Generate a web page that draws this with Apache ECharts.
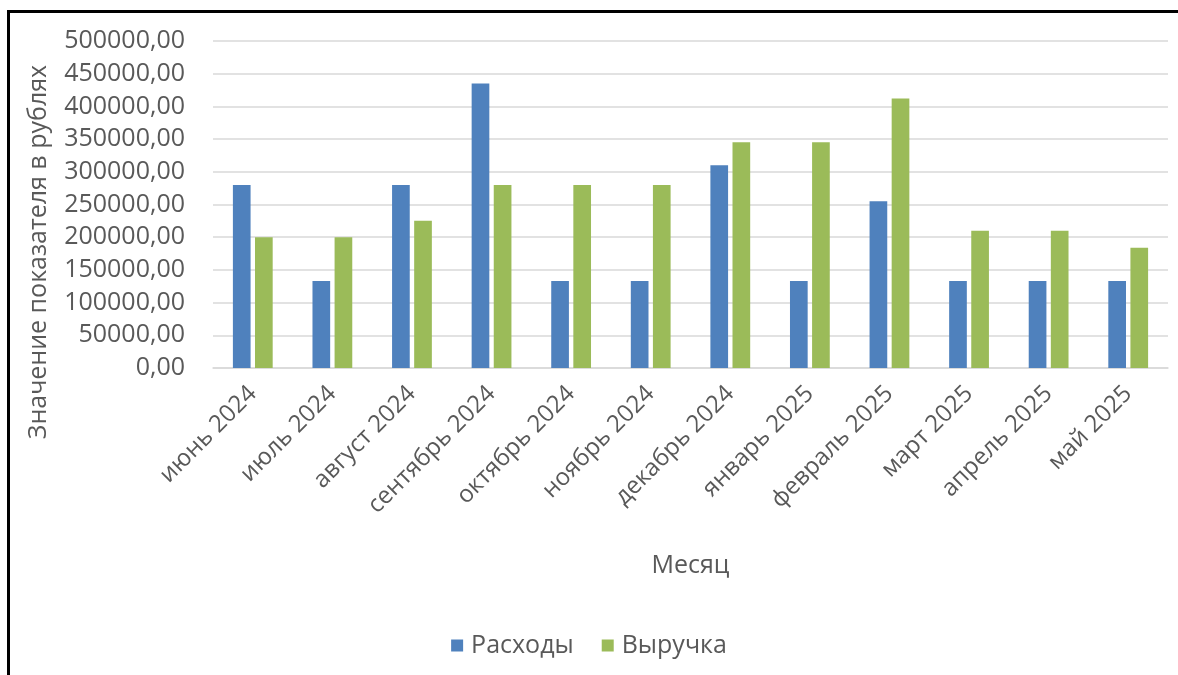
<!DOCTYPE html>
<html>
<head>
<meta charset="utf-8">
<script src="https://cdn.jsdelivr.net/npm/echarts@6/dist/echarts.min.js"></script>
<style>
  html, body { margin: 0; padding: 0; background: #fff; }
  #chart { position: absolute; left: 0; top: 0; width: 1178px; height: 675px; }
  .frame {
    position: absolute; left: 7px; top: 10px; width: 1200px; height: 700px;
    border-left: 3px solid #000; border-top: 3px solid #000;
    pointer-events: none;
  }
</style>
</head>
<body>
<div id="chart"></div>
<div class="frame"></div>
<script>
const months = ['июнь 2024', 'июль 2024', 'август 2024', 'сентябрь 2024', 'октябрь 2024', 'ноябрь 2024',
  'декабрь 2024', 'январь 2025', 'февраль 2025', 'март 2025', 'апрель 2025', 'май 2025']
const expenses = [280000, 133000, 280000, 435000, 133000, 133000, 310000, 133000, 255000, 133000, 133000, 133000]
const revenue = [200000, 200000, 225000, 280000, 280000, 280000, 345000, 345000, 412000, 210000, 210000, 184000]
const yMin = 0
const yMax = 500000
const yStep = 50000

const textColor = '#595959'
const font = 'Open Sans'

const chart = echarts.init(document.getElementById('chart'))

const option = {
  animation: false,
  textStyle: { fontFamily: font },
  grid: { left: 213, right: 10, top: 41, bottom: 307 },
  legend: {
    bottom: 12,
    left: 'center',
    itemWidth: 12,
    itemHeight: 12,
    itemGap: 28,
    icon: 'rect',
    textStyle: { color: textColor, fontSize: 25, fontFamily: font, padding: [0, 0, 0, 3] },
    data: ['Расходы', 'Выручка']
  },
  graphic: [
    {
      type: 'text',
      x: 39,
      y: 252,
      rotation: Math.PI / 2,
      style: {
        text: 'Значение показателя в рублях',
        fill: textColor,
        font: '25px "Open Sans"',
        textAlign: 'center',
        textVerticalAlign: 'middle'
      }
    }
  ],
  xAxis: {
    type: 'category',
    data: months,
    name: 'Месяц',
    nameLocation: 'middle',
    nameGap: 185,
    nameTextStyle: { color: textColor, fontSize: 25, fontFamily: font },
    axisTick: { show: false },
    axisLine: { lineStyle: { color: '#d9d9d9', width: 1.5 } },
    axisLabel: {
      color: textColor,
      fontSize: 24,
      fontFamily: font,
      rotate: 45,
      margin: 22,
      interval: 0
    }
  },
  yAxis: {
    type: 'value',
    min: yMin,
    max: yMax,
    interval: yStep,
    axisLine: { show: false },
    axisTick: { show: false },
    splitLine: { lineStyle: { color: '#d9d9d9', width: 1.5 } },
    axisLabel: {
      color: textColor,
      fontSize: 25,
      fontFamily: font,
      margin: 28,
      formatter: v => v.toFixed(2).replace('.', ',')
    }
  },
  series: [
    {
      name: 'Расходы',
      type: 'bar',
      data: expenses,
      barGap: '25%',
      barCategoryGap: '50%',
      itemStyle: { color: '#4F81BD' }
    },
    {
      name: 'Выручка',
      type: 'bar',
      data: revenue,
      barGap: '25%',
      barCategoryGap: '50%',
      itemStyle: { color: '#9BBB59' }
    }
  ]
}

chart.setOption(option)
</script>
</body>
</html>
